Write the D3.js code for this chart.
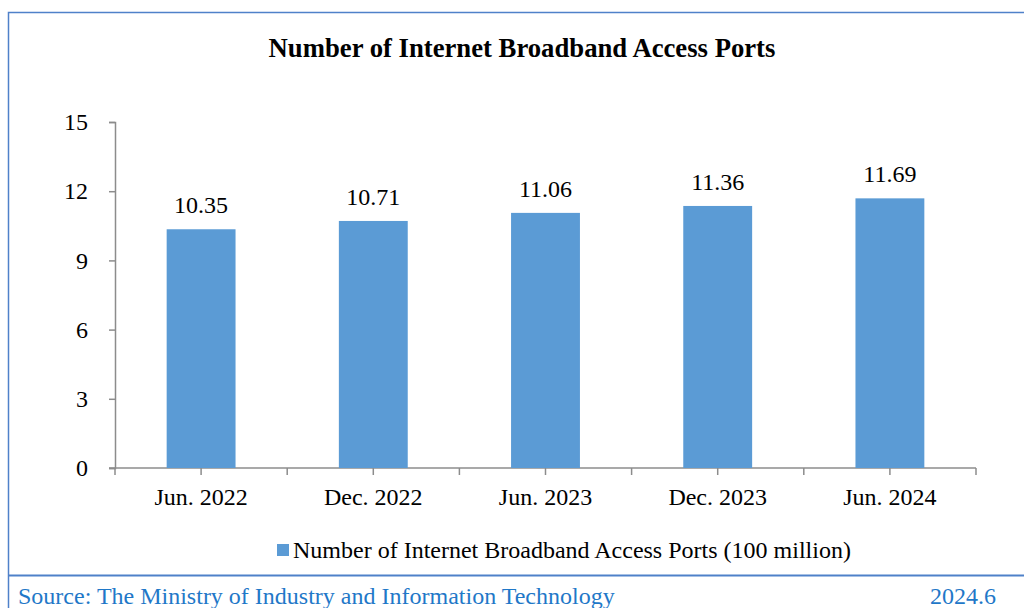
<!DOCTYPE html>
<html>
<head>
<meta charset="utf-8">
<script src="https://cdn.jsdelivr.net/npm/d3@7"></script>
<style>
  html, body { margin: 0; padding: 0; background: #fff; }
  svg { display: block; }
</style>
</head>
<body>
<svg id="chart" width="1024" height="608"></svg>
<script>
// Broadband access ports, in units of 100 million
const categories = ["Jun. 2022", "Dec. 2022", "Jun. 2023", "Dec. 2023", "Jun. 2024"];
const ports = [10.35, 10.71, 11.06, 11.36, 11.69];
const yTicks = [0, 3, 6, 9, 12, 15];

const titleText = "Number of Internet Broadband Access Ports";
const legendText = "Number of Internet Broadband Access Ports (100 million)";
const sourceText = "Source: The Ministry of Industry and Information Technology";
const dateText = "2024.6";

const barColor = "#5B9BD5";
const axisColor = "#8c8c8c";
const frameColor = "#4F81C9";
const serif = "'Liberation Serif', 'Times New Roman', serif";

const svg = d3.select("#chart");

// Outer frame and footer separator
svg.append("path")
  .attr("d", "M8.5,608 V12.5 H1024")
  .attr("fill", "none").attr("stroke", frameColor).attr("stroke-width", 1.5);
svg.append("line")
  .attr("x1", 8).attr("x2", 1024).attr("y1", 575.5).attr("y2", 575.5)
  .attr("stroke", frameColor).attr("stroke-width", 2);

// Title
svg.append("text")
  .attr("x", 522).attr("y", 57)
  .attr("text-anchor", "middle")
  .attr("font-family", serif).attr("font-weight", "bold").attr("font-size", 26.7)
  .attr("fill", "#000").text(titleText);

// Plot area
const plotLeft = 115, plotRight = 976, plotTop = 122, plotBottom = 468;

const x = d3.scaleBand().domain(categories).range([plotLeft, plotRight]).paddingInner(0.6).paddingOuter(0.3);
const y = d3.scaleLinear().domain([0, 15]).range([plotBottom, plotTop]);

// Y axis
const yAxis = svg.append("g").attr("transform", `translate(${plotLeft},0)`)
  .call(d3.axisLeft(y).tickValues(yTicks).tickSize(6).tickPadding(21).tickSizeOuter(6));
yAxis.select(".domain").attr("stroke", axisColor).attr("stroke-width", 1.5);
yAxis.selectAll(".tick line").attr("stroke", axisColor).attr("stroke-width", 1.5);
yAxis.selectAll(".tick text")
  .attr("font-family", serif).attr("font-size", 24).attr("fill", "#000");

// X axis: baseline plus ticks at category centers and boundaries
const step = (plotRight - plotLeft) / categories.length;
const xg = svg.append("g");
xg.append("line")
  .attr("x1", plotLeft - 6).attr("x2", plotRight).attr("y1", plotBottom).attr("y2", plotBottom)
  .attr("stroke", axisColor).attr("stroke-width", 1.5);
const tickXs = d3.range(0, categories.length * 2 + 1).map(i => plotLeft + i * step / 2);
xg.selectAll("line.t").data(tickXs).join("line").attr("class", "t")
  .attr("x1", d => d).attr("x2", d => d)
  .attr("y1", plotBottom).attr("y2", plotBottom + 7)
  .attr("stroke", axisColor).attr("stroke-width", 1.5);
xg.selectAll("text").data(categories).join("text")
  .attr("x", d => x(d) + x.bandwidth() / 2)
  .attr("y", 505)
  .attr("text-anchor", "middle")
  .attr("font-family", serif).attr("font-size", 24).attr("fill", "#000")
  .text(d => d);

// Bars
const data = categories.map((c, i) => ({ c, v: ports[i] }));
svg.append("g").selectAll("rect").data(data).join("rect")
  .attr("x", d => x(d.c))
  .attr("width", x.bandwidth())
  .attr("y", d => y(d.v))
  .attr("height", d => plotBottom - y(d.v))
  .attr("fill", barColor);

// Value labels
svg.append("g").selectAll("text").data(data).join("text")
  .attr("x", d => x(d.c) + x.bandwidth() / 2)
  .attr("y", d => y(d.v) - 16)
  .attr("text-anchor", "middle")
  .attr("font-family", serif).attr("font-size", 24).attr("fill", "#000")
  .text(d => d.v.toFixed(2));

// Legend
svg.append("rect")
  .attr("x", 277).attr("y", 544).attr("width", 12).attr("height", 12)
  .attr("fill", barColor);
svg.append("text")
  .attr("x", 293).attr("y", 558)
  .attr("font-family", serif).attr("font-size", 24).attr("fill", "#000")
  .text(legendText);

// Footer
svg.append("text")
  .attr("x", 18).attr("y", 604)
  .attr("font-family", serif).attr("font-size", 24).attr("fill", "#1F78C8")
  .text(sourceText);
svg.append("text")
  .attr("x", 996).attr("y", 604)
  .attr("text-anchor", "end")
  .attr("font-family", serif).attr("font-size", 24).attr("fill", "#1F78C8")
  .text(dateText);
</script>
</body>
</html>
